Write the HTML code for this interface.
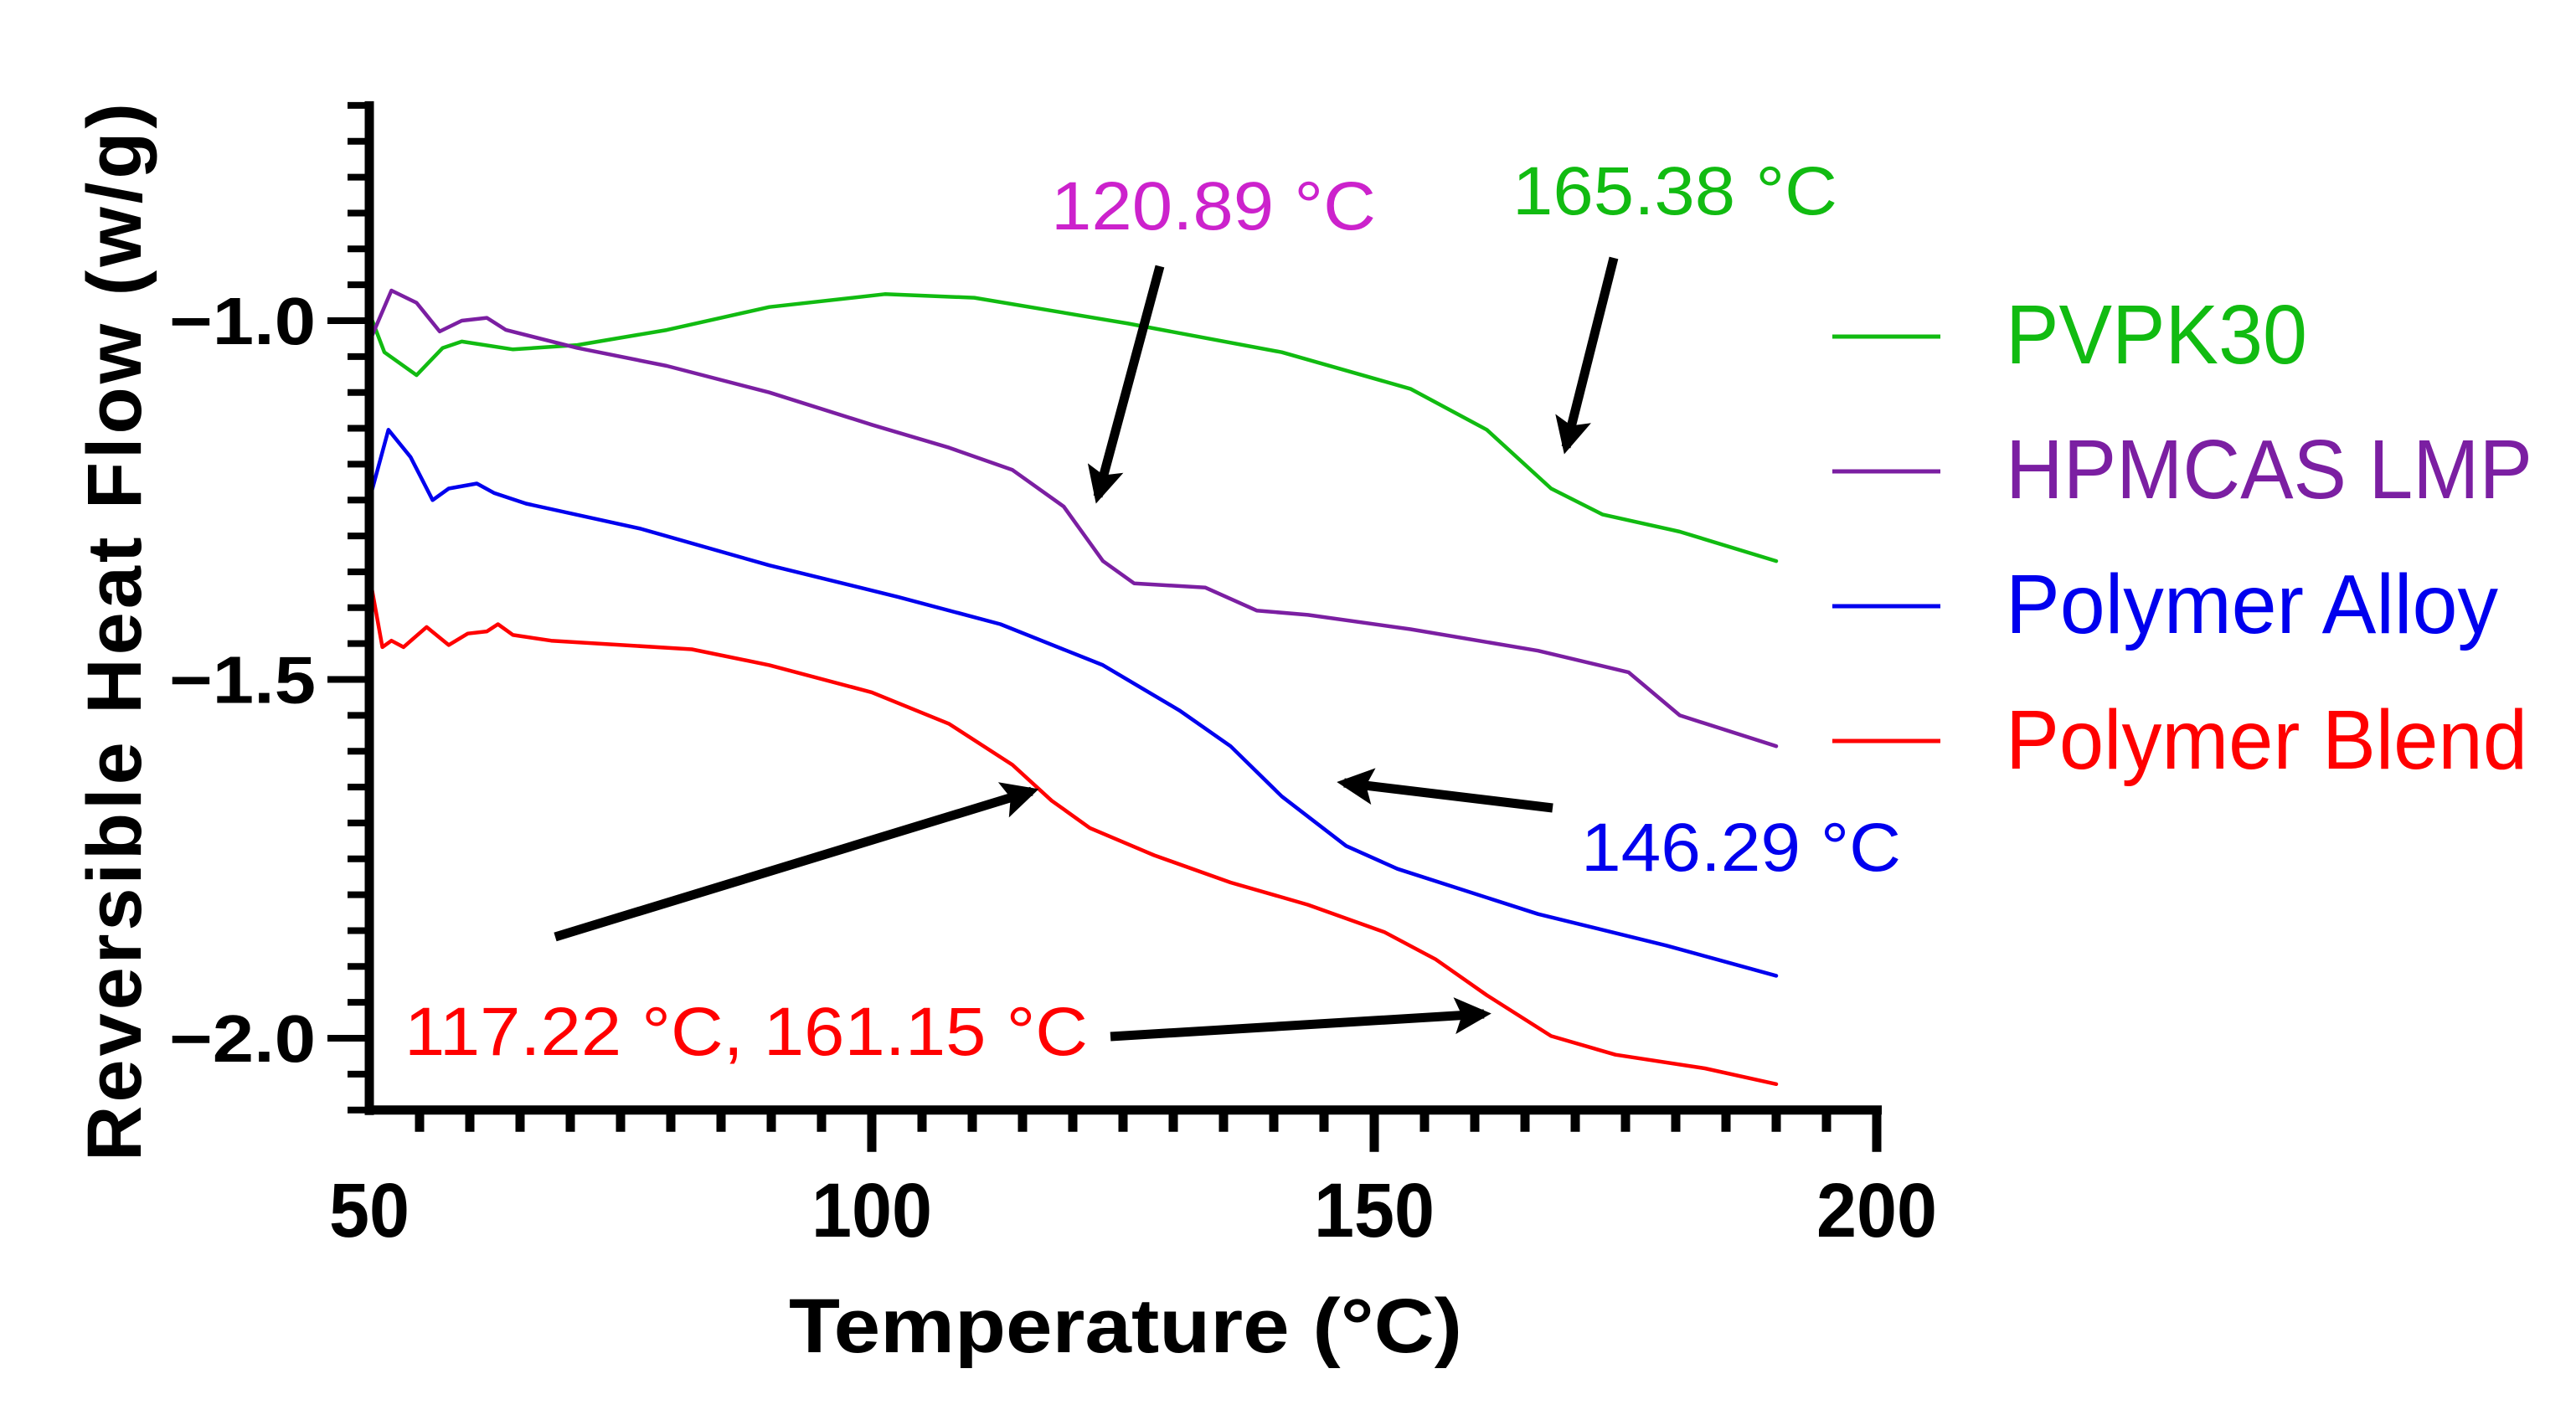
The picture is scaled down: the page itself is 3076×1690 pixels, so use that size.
<!DOCTYPE html>
<html><head><meta charset="utf-8"><style>
html,body{margin:0;padding:0;background:#fff;}
svg{display:block;}
text{font-family:"Liberation Sans",Arial,sans-serif;}
</style></head><body>
<svg id="chart" width="3076" height="1690" viewBox="0 0 3076 1690" xmlns="http://www.w3.org/2000/svg">
<defs>
<marker id="ah" markerWidth="4" markerHeight="4" refX="3.2" refY="2" orient="auto" markerUnits="strokeWidth"><path d="M0,0 L4,2 L0,4 L0.8,2 Z" fill="#000"/></marker>
</defs>
<g id="plot"></g>
<text x="0" y="0" transform="translate(168,755) rotate(-90)" text-anchor="middle" font-size="92" font-weight="bold" textLength="1264" lengthAdjust="spacing">Reversible  Heat  Flow  (w/g)</text>
<text x="1344" y="1615" text-anchor="middle" font-size="92" font-weight="bold" textLength="804" lengthAdjust="spacingAndGlyphs">Temperature (°C)</text>
<g>
<text x="1255" y="274" font-size="82" fill="#cc22cc" textLength="388" lengthAdjust="spacingAndGlyphs">120.89 °C</text>
<text x="1806" y="256" font-size="82" fill="#11bb11" textLength="388" lengthAdjust="spacingAndGlyphs">165.38 °C</text>
<text x="1888" y="1040" font-size="82" fill="#0000ee" textLength="382" lengthAdjust="spacingAndGlyphs">146.29 °C</text>
<text x="483" y="1260" font-size="82" fill="#ff0000" textLength="816" lengthAdjust="spacingAndGlyphs">117.22 °C, 161.15 °C</text>
<line x1="1385" y1="318" x2="1311" y2="593" stroke="#000" stroke-width="11" marker-end="url(#ah)"/>
<line x1="1927" y1="308" x2="1870" y2="534" stroke="#000" stroke-width="11" marker-end="url(#ah)"/>
<line x1="1854" y1="965" x2="1605" y2="935" stroke="#000" stroke-width="11" marker-end="url(#ah)"/>
<line x1="663" y1="1119" x2="1232" y2="945" stroke="#000" stroke-width="11" marker-end="url(#ah)"/>
<line x1="1326" y1="1238" x2="1772" y2="1211" stroke="#000" stroke-width="11" marker-end="url(#ah)"/>
</g>
<g id="legend"></g>
</svg>
<script>
const seriesNames = ["PVPK30","HPMCAS LMP","Polymer Alloy","Polymer Blend"];
const seriesColors = ["#11bb11","#7b1fa2","#0000ee","#ff0000"];
const pvpkT = [50.3,51.5,54.7,57.3,59.2,64.3,70.7,79.6,89.8,101.3,110.2,125.5,140.8,153.6,161.2,167.6,172.7,180.4,190];
const pvpkV = [-1.0,-1.044,-1.076,-1.038,-1.029,-1.04,-1.034,-1.013,-0.981,-0.963,-0.968,-1.004,-1.044,-1.095,-1.152,-1.234,-1.27,-1.294,-1.335];
const hpmT = [50.3,52.2,54.7,57,59.2,61.7,63.6,70.7,79.6,89.8,100,107.7,114,119.1,123,126.1,133.2,138.3,143.4,153.6,166.3,175.3,180.4,190];
const hpmV = [-1.02,-0.958,-0.975,-1.015,-1.0,-0.996,-1.013,-1.038,-1.063,-1.10,-1.145,-1.177,-1.208,-1.259,-1.335,-1.366,-1.372,-1.404,-1.41,-1.43,-1.46,-1.49,-1.55,-1.593];
const alloyT = [50,51.9,54.1,56.3,57.9,60.7,62.4,65.6,77,89.8,102.6,112.8,123,130.6,135.7,140.8,147.2,152.3,166.3,179.1,190];
const alloyV = [-1.25,-1.152,-1.19,-1.25,-1.234,-1.227,-1.24,-1.255,-1.29,-1.341,-1.385,-1.423,-1.48,-1.543,-1.593,-1.663,-1.732,-1.764,-1.827,-1.871,-1.913];
const blendT = [50,51.3,52.2,53.4,55.7,57.9,59.8,61.7,62.8,64.3,68.1,82.1,89.8,100,107.7,114,117.9,121.7,128.1,135.7,143.4,151,156.1,161.2,167.6,174,182.9,190];
const blendV = [-1.354,-1.455,-1.446,-1.455,-1.427,-1.452,-1.436,-1.433,-1.423,-1.438,-1.446,-1.458,-1.48,-1.518,-1.562,-1.619,-1.669,-1.707,-1.745,-1.783,-1.814,-1.852,-1.89,-1.94,-1.997,-2.023,-2.042,-2.064];
const xTickLabels = [50,100,150,200];
const yTickLabels = [-1.0,-1.5,-2.0];

const NS = "http://www.w3.org/2000/svg";
const X0 = 441, XS = 12.0, Y0 = 1240, YS = 857;
function xS(t){ return X0 + (t-50)*XS; }
function yS(v){ return Y0 - (v+2)*YS; }
function mk(tag, attrs, parent){ const e=document.createElementNS(NS,tag); for(const k in attrs) e.setAttribute(k,attrs[k]); parent.appendChild(e); return e; }
const plot = document.getElementById('plot');
const legend = document.getElementById('legend');

const allT=[pvpkT,hpmT,alloyT,blendT], allV=[pvpkV,hpmV,alloyV,blendV];
const keys=["pvpk30","hpmcas","alloy","blend"];
const legY=[402,563,724,885], legBase=[434,595,756,918], legLen=[360,629,588,623];
for(let s=0;s<4;s++){
  let d='';
  for(let i=0;i<allT[s].length;i++){ d+=(i?'L':'M')+xS(allT[s][i]).toFixed(1)+','+yS(allV[s][i]).toFixed(1); }
  const p=mk('path',{d:d,fill:'none',stroke:seriesColors[s],'stroke-width':4.5,'stroke-linejoin':'round','stroke-linecap':'round'},plot);
  
  
  const ll=mk('line',{x1:2188,y1:legY[s],x2:2317,y2:legY[s],stroke:seriesColors[s],'stroke-width':5},legend);
  
  
  const lt=mk('text',{x:2395,y:legBase[s],'font-size':100,fill:seriesColors[s],textLength:legLen[s],lengthAdjust:'spacingAndGlyphs'},legend);
  lt.textContent=seriesNames[s];
  
  
}

const ax=mk('g',{},plot);


const yl=mk('line',{x1:X0,y1:yS(-0.7)-5,x2:X0,y2:yS(-2.1)+6,stroke:'#000','stroke-width':11},ax);


const xl=mk('line',{x1:X0-5,y1:yS(-2.1),x2:xS(200)+6,y2:yS(-2.1),stroke:'#000','stroke-width':11},ax);


for(let k=0;k<=28;k++){
  const v=-2.1+k*0.05; const y=yS(v); const major=(k%10===2);
  const tk=mk('line',{x1:X0-(major?50:26),y1:y,x2:X0,y2:y,stroke:'#000','stroke-width':8},ax);
  
  
}
for(let t=55;t<=200;t+=5){
  const major=(t%50===0);
  const tk=mk('line',{x1:xS(t),y1:yS(-2.1),x2:xS(t),y2:yS(-2.1)+(major?50:26),stroke:'#000','stroke-width':11},ax);
  
  
}
for(const v of yTickLabels){
  const t=mk('text',{x:377,y:yS(v)+28,'text-anchor':'end','font-size':80,'font-weight':'bold',textLength:175,lengthAdjust:'spacingAndGlyphs'},ax);
  t.textContent='\u2212'+Math.abs(v).toFixed(1);
  
  
}
for(const v of xTickLabels){
  const s=String(v);
  const t=mk('text',{x:xS(v),y:1477,'text-anchor':'middle','font-size':92,'font-weight':'bold',textLength:s.length*48,lengthAdjust:'spacingAndGlyphs'},ax);
  t.textContent=s;
  
  
}
</script>
</body></html>
